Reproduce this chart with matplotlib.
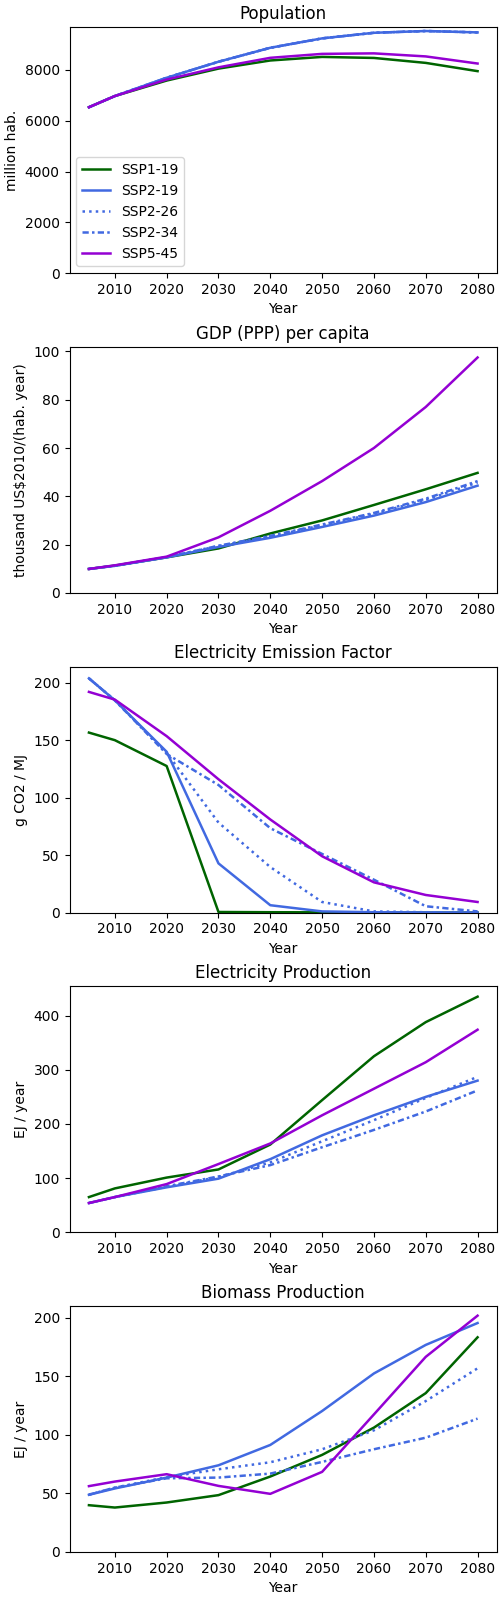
import numpy as np
import matplotlib
matplotlib.use("Agg")
import matplotlib.pyplot as plt

# ── Data ──────────────────────────────────
years = [2005, 2010, 2020, 2030, 2040, 2050, 2060, 2070, 2080]
scenarios = ["SSP1-19", "SSP2-19", "SSP2-26", "SSP2-34", "SSP5-45"]

population = {
    "SSP1-19": [6530, 6970, 7580, 8050, 8370, 8510, 8470, 8275, 7950],
    "SSP2-19": [6530, 6970, 7690, 8320, 8870, 9240, 9460, 9530, 9475],
    "SSP2-26": [6530, 6970, 7690, 8320, 8870, 9240, 9460, 9530, 9475],
    "SSP2-34": [6530, 6970, 7690, 8320, 8870, 9240, 9460, 9530, 9475],
    "SSP5-45": [6530, 6970, 7620, 8100, 8475, 8630, 8650, 8530, 8250],
}

gdp = {
    "SSP1-19": [9.9, 11.3, 14.7, 18.4, 24.6, 30.0, 36.4, 42.9, 49.7],
    "SSP2-19": [9.9, 11.2, 14.7, 19.0, 22.8, 27.3, 32.0, 37.6, 44.4],
    "SSP2-26": [9.9, 11.2, 14.8, 19.4, 23.4, 28.0, 32.8, 38.5, 45.7],
    "SSP2-34": [9.9, 11.2, 14.8, 19.5, 23.6, 28.3, 33.1, 39.0, 46.3],
    "SSP5-45": [9.9, 11.4, 15.0, 23.0, 34.0, 46.3, 60.0, 77.0, 97.5],
}

emission_factor = {
    "SSP1-19": [156.6, 150.0, 127.5, 0.5, 0.3, 0.2, 0.1, 0.0, 0.0],
    "SSP2-19": [203.8, 184.7, 139.9, 42.8, 6.4, 1.0, 0.3, 0.1, 0.0],
    "SSP2-26": [203.8, 184.7, 139.0, 78.3, 39.6, 9.2, 1.0, 0.3, 0.1],
    "SSP2-34": [203.8, 184.7, 138.0, 111.0, 73.4, 51.0, 28.6, 5.5, 1.0],
    "SSP5-45": [192.0, 185.3, 153.5, 116.0, 81.0, 49.0, 26.3, 15.3, 9.2],
}

electricity = {
    "SSP1-19": [65, 81, 101, 116, 162, 244, 325, 388, 435],
    "SSP2-19": [54, 65, 83, 99, 135, 179, 216, 250, 280],
    "SSP2-26": [54, 65, 84, 102, 129, 168, 207, 248, 287],
    "SSP2-34": [54, 65, 85, 103, 124, 157, 189, 223, 262],
    "SSP5-45": [54, 65, 89, 126, 164, 216, 265, 314, 374],
}

biomass = {
    "SSP1-19": [40.0, 38.0, 42.3, 48.6, 64.5, 83.0, 106.3, 135.8, 183.5],
    "SSP2-19": [48.9, 54.3, 63.6, 74.1, 91.5, 120.5, 152.6, 177.0, 195.7],
    "SSP2-26": [49.0, 55.0, 64.0, 70.7, 76.7, 87.8, 104.0, 129.0, 157.0],
    "SSP2-34": [49.0, 55.0, 63.0, 63.6, 67.0, 77.0, 87.8, 97.7, 114.0],
    "SSP5-45": [56.3, 60.2, 66.5, 56.5, 49.7, 68.5, 117.6, 166.8, 202.0],
}

# ── Styles ────────────────────────────────
styles = {
    "SSP1-19": ("darkgreen", "-"),
    "SSP2-19": ("royalblue", "-"),
    "SSP2-26": ("royalblue", (0, (1, 1.65))),
    "SSP2-34": ("royalblue", (0, (2.5, 1.3, 1, 1.3))),
    "SSP5-45": ("darkviolet", "-"),
}

panels = [
    (population, "Population", "million hab."),
    (gdp, "GDP (PPP) per capita", "thousand US$2010/(hab. year)"),
    (emission_factor, "Electricity Emission Factor", "g CO2 / MJ"),
    (electricity, "Electricity Production", "EJ / year"),
    (biomass, "Biomass Production", "EJ / year"),
]

fig, axes = plt.subplots(5, 1, figsize=(5, 16))

for i, (ax, (data, title, ylabel)) in enumerate(zip(axes, panels)):
    for s in scenarios:
        color, ls = styles[s]
        ax.plot(years, data[s], color=color, linestyle=ls, linewidth=1.8, label=s)
    ax.set_title(title)
    ax.set_xlabel("Year")
    ax.set_ylabel(ylabel)
    ax.set_xticks(years[1:])
    ax.set_ylim(bottom=0)
    if i == 0:
        ax.legend(loc="lower left")

plt.subplots_adjust(left=0.139, right=0.994, top=0.983, bottom=0.030, hspace=0.30)
plt.savefig("out.png", dpi=100)
